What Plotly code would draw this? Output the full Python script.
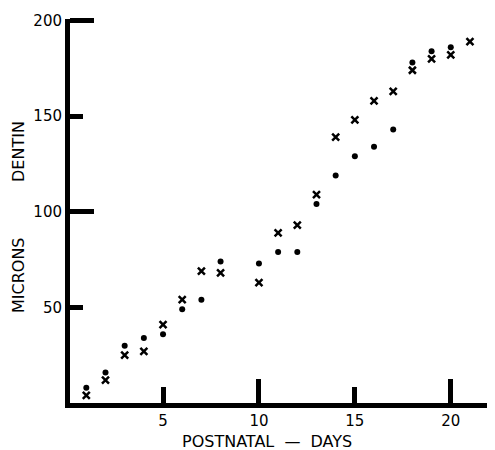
import plotly.graph_objects as go

# Data
days_dot = [1, 2, 3, 4, 5, 6, 7, 8, 10, 11, 12, 13, 14, 15, 16, 17, 18, 19, 20]
microns_dot = [8, 16, 30, 34, 36, 49, 54, 74, 73, 79, 79, 104, 119, 129, 134, 143, 178, 184, 186]
days_cross = [1, 2, 3, 4, 5, 6, 7, 8, 10, 11, 12, 13, 14, 15, 16, 17, 18, 19, 20, 21]
microns_cross = [4, 12, 25, 27, 41, 54, 69, 68, 63, 89, 93, 109, 139, 148, 158, 163, 174, 180, 182, 189]

x_minor_ticks = [5, 15]
x_major_ticks = [10, 20]
y_minor_ticks = [50, 150]
y_major_ticks = [100, 200]

XR = [0.15, 22.15]
YR = [0, 200.8]
FONT = "DejaVu Sans"

fig = go.Figure()
fig.add_trace(go.Scatter(x=days_dot, y=microns_dot, mode="markers",
                         marker=dict(symbol="circle", size=6, color="black"),
                         xaxis="x", yaxis="y", showlegend=False))
fig.add_trace(go.Scatter(x=days_cross, y=microns_cross, mode="markers",
                         marker=dict(symbol="x-thin", size=7, color="black",
                                     line=dict(color="black", width=2.5)),
                         xaxis="x2", yaxis="y2", showlegend=False))

fig.update_layout(
    width=487, height=442,
    margin=dict(l=62, r=3, t=11, b=47),
    paper_bgcolor="white", plot_bgcolor="white",
    font=dict(family=FONT, size=15, color="black"),
    xaxis=dict(range=XR, showgrid=False, zeroline=False, showline=True,
               linecolor="black", linewidth=5,
               tickmode="array", tickvals=x_minor_ticks + x_major_ticks,
               ticktext=[str(v) for v in x_minor_ticks + x_major_ticks],
               ticks="inside", ticklen=16, tickwidth=5, tickcolor="black",
               tickfont=dict(size=15, family=FONT)),
    xaxis2=dict(range=XR, overlaying="x", side="bottom", showgrid=False,
                zeroline=False, showline=False, tickmode="array",
                tickvals=x_major_ticks, ticks="inside", ticklen=24, tickwidth=5,
                tickcolor="black", showticklabels=False),
    yaxis=dict(range=YR, showgrid=False, zeroline=False, showline=True,
               linecolor="black", linewidth=5,
               tickmode="array", tickvals=y_minor_ticks + y_major_ticks,
               ticktext=[str(v) for v in y_minor_ticks + y_major_ticks],
               ticks="inside", ticklen=13, tickwidth=5, tickcolor="black",
               tickfont=dict(size=15, family=FONT)),
    yaxis2=dict(range=YR, overlaying="y", side="left", showgrid=False,
                zeroline=False, showline=False, tickmode="array",
                tickvals=y_major_ticks, ticks="inside", ticklen=24, tickwidth=5,
                tickcolor="black", showticklabels=False),
    annotations=[
        dict(text="POSTNATAL  —  DAYS", xref="paper", yref="paper",
             x=0.467, y=-0.099, xanchor="center", yanchor="middle", showarrow=False,
             font=dict(size=16, family=FONT)),
        dict(text="MICRONS", xref="paper", yref="paper", textangle=-90,
             x=-0.122, xanchor="center", y=0.332, yanchor="middle", showarrow=False,
             font=dict(size=16, family=FONT)),
        dict(text="DENTIN", xref="paper", yref="paper", textangle=-90,
             x=-0.122, xanchor="center", y=0.655, yanchor="middle", showarrow=False,
             font=dict(size=16, family=FONT)),
    ],
)

fig.write_html("out.html")
